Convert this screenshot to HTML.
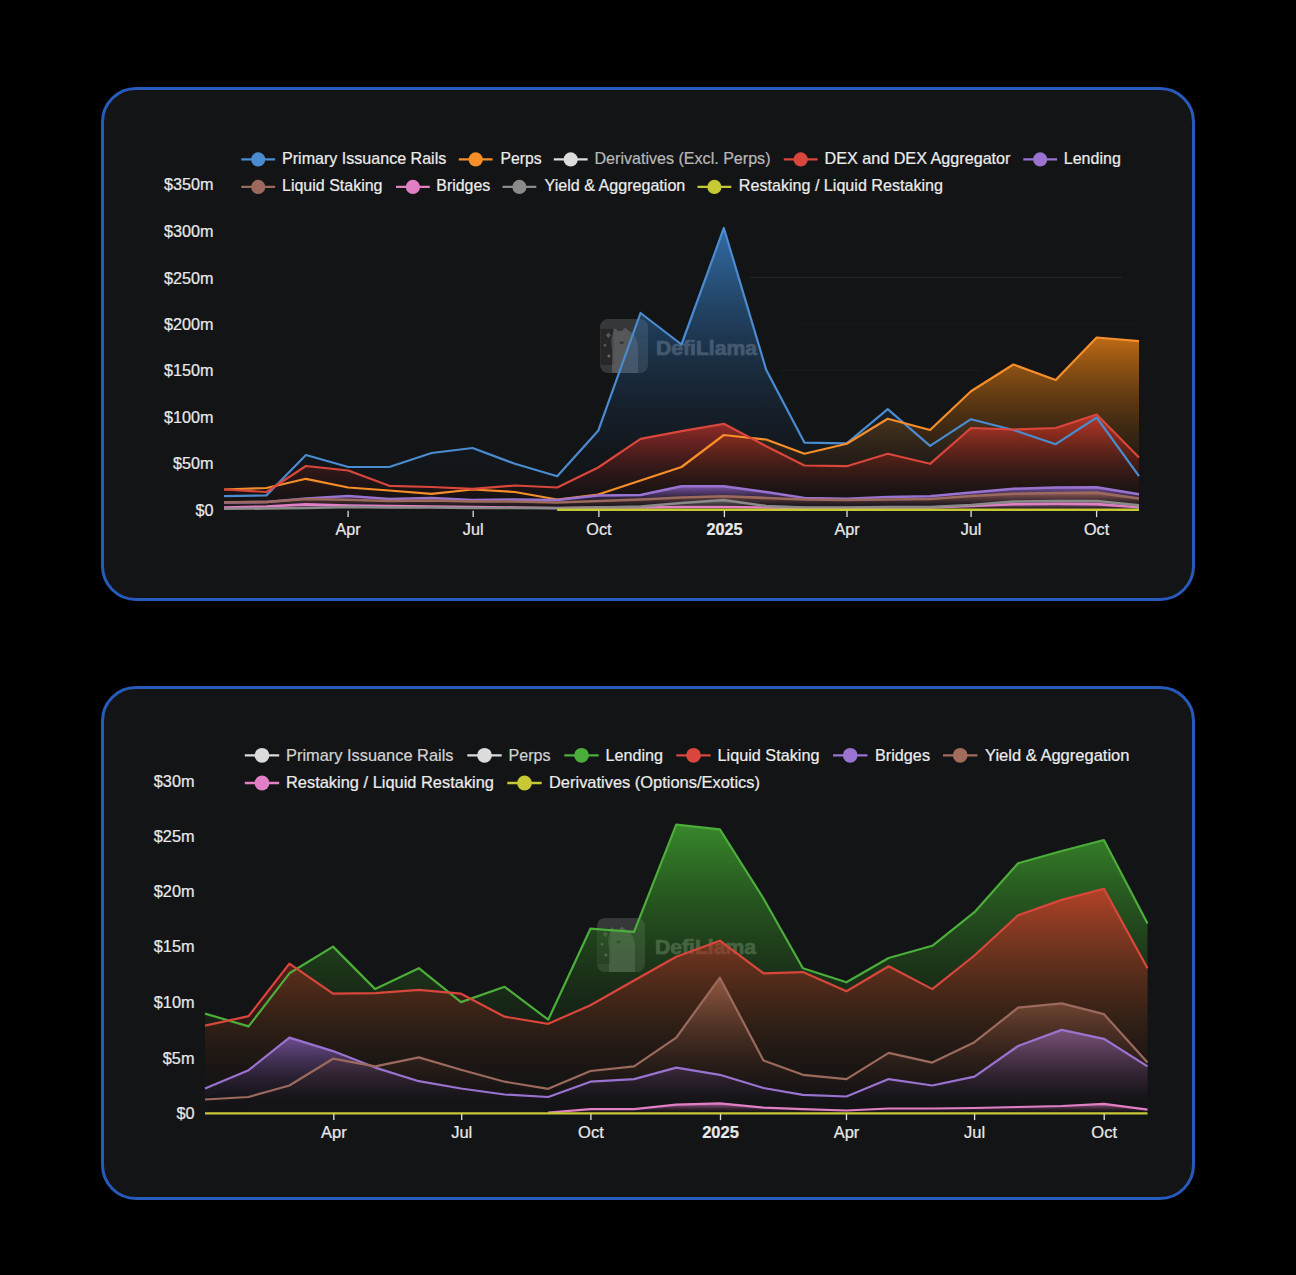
<!DOCTYPE html>
<html><head><meta charset="utf-8"><title>DefiLlama charts</title>
<style>
html,body{margin:0;padding:0;background:#000;}
body{width:1296px;height:1275px;position:relative;overflow:hidden;font-family:"Liberation Sans",sans-serif;}
.panel{position:absolute;left:101px;width:1094px;height:513.5px;box-sizing:border-box;border:3px solid #275bbb;border-radius:35px;background:#131416;}
#p1{top:87px;} #p2{top:686px;}
</style></head><body>
<div class="panel" id="p1"></div>
<div class="panel" id="p2"></div>
<svg width="1296" height="1275" viewBox="0 0 1296 1275" style="position:absolute;left:0;top:0"><defs><linearGradient id="a0" gradientUnits="userSpaceOnUse" x1="0" y1="228" x2="0" y2="510.3"><stop offset="0.0000" stop-color="rgb(63,143,224)" stop-opacity="0.7200"/><stop offset="0.0833" stop-color="rgb(59,134,210)" stop-opacity="0.6600"/><stop offset="0.1667" stop-color="rgb(55,125,195)" stop-opacity="0.6000"/><stop offset="0.2500" stop-color="rgb(51,115,181)" stop-opacity="0.5400"/><stop offset="0.3333" stop-color="rgb(46,106,165)" stop-opacity="0.4800"/><stop offset="0.4167" stop-color="rgb(42,95,150)" stop-opacity="0.4200"/><stop offset="0.5000" stop-color="rgb(37,85,133)" stop-opacity="0.3600"/><stop offset="0.5833" stop-color="rgb(33,74,116)" stop-opacity="0.3000"/><stop offset="0.6667" stop-color="rgb(28,63,98)" stop-opacity="0.2400"/><stop offset="0.7500" stop-color="rgb(22,51,79)" stop-opacity="0.1800"/><stop offset="0.8333" stop-color="rgb(16,37,58)" stop-opacity="0.1200"/><stop offset="0.9167" stop-color="rgb(10,22,35)" stop-opacity="0.0600"/><stop offset="1.0000" stop-color="rgb(0,0,0)" stop-opacity="0.0000"/></linearGradient><linearGradient id="a1" gradientUnits="userSpaceOnUse" x1="0" y1="337.5" x2="0" y2="510.3"><stop offset="0.0000" stop-color="rgb(255,140,20)" stop-opacity="0.7200"/><stop offset="0.0833" stop-color="rgb(239,131,19)" stop-opacity="0.6600"/><stop offset="0.1667" stop-color="rgb(222,122,17)" stop-opacity="0.6000"/><stop offset="0.2500" stop-color="rgb(206,113,16)" stop-opacity="0.5400"/><stop offset="0.3333" stop-color="rgb(188,103,15)" stop-opacity="0.4800"/><stop offset="0.4167" stop-color="rgb(170,93,13)" stop-opacity="0.4200"/><stop offset="0.5000" stop-color="rgb(152,83,12)" stop-opacity="0.3600"/><stop offset="0.5833" stop-color="rgb(132,73,10)" stop-opacity="0.3000"/><stop offset="0.6667" stop-color="rgb(112,61,9)" stop-opacity="0.2400"/><stop offset="0.7500" stop-color="rgb(90,49,7)" stop-opacity="0.1800"/><stop offset="0.8333" stop-color="rgb(67,37,5)" stop-opacity="0.1200"/><stop offset="0.9167" stop-color="rgb(40,22,3)" stop-opacity="0.0600"/><stop offset="1.0000" stop-color="rgb(0,0,0)" stop-opacity="0.0000"/></linearGradient><linearGradient id="a2" gradientUnits="userSpaceOnUse" x1="0" y1="414.5" x2="0" y2="510.3"><stop offset="0.0000" stop-color="rgb(232,55,42)" stop-opacity="0.7200"/><stop offset="0.0833" stop-color="rgb(217,52,39)" stop-opacity="0.6600"/><stop offset="0.1667" stop-color="rgb(202,48,37)" stop-opacity="0.6000"/><stop offset="0.2500" stop-color="rgb(187,44,34)" stop-opacity="0.5400"/><stop offset="0.3333" stop-color="rgb(171,41,31)" stop-opacity="0.4800"/><stop offset="0.4167" stop-color="rgb(155,37,28)" stop-opacity="0.4200"/><stop offset="0.5000" stop-color="rgb(138,33,25)" stop-opacity="0.3600"/><stop offset="0.5833" stop-color="rgb(120,29,22)" stop-opacity="0.3000"/><stop offset="0.6667" stop-color="rgb(102,24,18)" stop-opacity="0.2400"/><stop offset="0.7500" stop-color="rgb(82,19,15)" stop-opacity="0.1800"/><stop offset="0.8333" stop-color="rgb(61,14,11)" stop-opacity="0.1200"/><stop offset="0.9167" stop-color="rgb(36,9,7)" stop-opacity="0.0600"/><stop offset="1.0000" stop-color="rgb(0,0,0)" stop-opacity="0.0000"/></linearGradient><linearGradient id="a3" gradientUnits="userSpaceOnUse" x1="0" y1="486.3" x2="0" y2="510.3"><stop offset="0.0000" stop-color="rgb(154,110,224)" stop-opacity="0.7200"/><stop offset="0.0833" stop-color="rgb(144,103,210)" stop-opacity="0.6600"/><stop offset="0.1667" stop-color="rgb(134,96,195)" stop-opacity="0.6000"/><stop offset="0.2500" stop-color="rgb(124,89,181)" stop-opacity="0.5400"/><stop offset="0.3333" stop-color="rgb(114,81,165)" stop-opacity="0.4800"/><stop offset="0.4167" stop-color="rgb(103,73,150)" stop-opacity="0.4200"/><stop offset="0.5000" stop-color="rgb(92,65,133)" stop-opacity="0.3600"/><stop offset="0.5833" stop-color="rgb(80,57,116)" stop-opacity="0.3000"/><stop offset="0.6667" stop-color="rgb(68,48,98)" stop-opacity="0.2400"/><stop offset="0.7500" stop-color="rgb(54,39,79)" stop-opacity="0.1800"/><stop offset="0.8333" stop-color="rgb(40,29,58)" stop-opacity="0.1200"/><stop offset="0.9167" stop-color="rgb(24,17,35)" stop-opacity="0.0600"/><stop offset="1.0000" stop-color="rgb(0,0,0)" stop-opacity="0.0000"/></linearGradient><linearGradient id="a4" gradientUnits="userSpaceOnUse" x1="0" y1="492.6" x2="0" y2="510.3"><stop offset="0.0000" stop-color="rgb(168,105,79)" stop-opacity="0.7200"/><stop offset="0.0833" stop-color="rgb(157,98,74)" stop-opacity="0.6600"/><stop offset="0.1667" stop-color="rgb(147,92,69)" stop-opacity="0.6000"/><stop offset="0.2500" stop-color="rgb(135,85,64)" stop-opacity="0.5400"/><stop offset="0.3333" stop-color="rgb(124,77,58)" stop-opacity="0.4800"/><stop offset="0.4167" stop-color="rgb(112,70,53)" stop-opacity="0.4200"/><stop offset="0.5000" stop-color="rgb(100,62,47)" stop-opacity="0.3600"/><stop offset="0.5833" stop-color="rgb(87,54,41)" stop-opacity="0.3000"/><stop offset="0.6667" stop-color="rgb(74,46,35)" stop-opacity="0.2400"/><stop offset="0.7500" stop-color="rgb(59,37,28)" stop-opacity="0.1800"/><stop offset="0.8333" stop-color="rgb(44,27,21)" stop-opacity="0.1200"/><stop offset="0.9167" stop-color="rgb(26,16,12)" stop-opacity="0.0600"/><stop offset="1.0000" stop-color="rgb(0,0,0)" stop-opacity="0.0000"/></linearGradient><linearGradient id="a5" gradientUnits="userSpaceOnUse" x1="0" y1="503.8" x2="0" y2="510.3"><stop offset="0.0000" stop-color="rgb(224,127,196)" stop-opacity="0.7200"/><stop offset="0.0833" stop-color="rgb(210,119,184)" stop-opacity="0.6600"/><stop offset="0.1667" stop-color="rgb(195,111,171)" stop-opacity="0.6000"/><stop offset="0.2500" stop-color="rgb(181,102,158)" stop-opacity="0.5400"/><stop offset="0.3333" stop-color="rgb(165,94,145)" stop-opacity="0.4800"/><stop offset="0.4167" stop-color="rgb(150,85,131)" stop-opacity="0.4200"/><stop offset="0.5000" stop-color="rgb(133,76,117)" stop-opacity="0.3600"/><stop offset="0.5833" stop-color="rgb(116,66,102)" stop-opacity="0.3000"/><stop offset="0.6667" stop-color="rgb(98,56,86)" stop-opacity="0.2400"/><stop offset="0.7500" stop-color="rgb(79,45,69)" stop-opacity="0.1800"/><stop offset="0.8333" stop-color="rgb(58,33,51)" stop-opacity="0.1200"/><stop offset="0.9167" stop-color="rgb(35,20,30)" stop-opacity="0.0600"/><stop offset="1.0000" stop-color="rgb(0,0,0)" stop-opacity="0.0000"/></linearGradient><linearGradient id="a6" gradientUnits="userSpaceOnUse" x1="0" y1="500" x2="0" y2="510.3"><stop offset="0.0000" stop-color="rgb(138,138,138)" stop-opacity="0.7200"/><stop offset="0.0833" stop-color="rgb(129,129,129)" stop-opacity="0.6600"/><stop offset="0.1667" stop-color="rgb(120,120,120)" stop-opacity="0.6000"/><stop offset="0.2500" stop-color="rgb(111,111,111)" stop-opacity="0.5400"/><stop offset="0.3333" stop-color="rgb(102,102,102)" stop-opacity="0.4800"/><stop offset="0.4167" stop-color="rgb(92,92,92)" stop-opacity="0.4200"/><stop offset="0.5000" stop-color="rgb(82,82,82)" stop-opacity="0.3600"/><stop offset="0.5833" stop-color="rgb(72,72,72)" stop-opacity="0.3000"/><stop offset="0.6667" stop-color="rgb(61,61,61)" stop-opacity="0.2400"/><stop offset="0.7500" stop-color="rgb(49,49,49)" stop-opacity="0.1800"/><stop offset="0.8333" stop-color="rgb(36,36,36)" stop-opacity="0.1200"/><stop offset="0.9167" stop-color="rgb(21,21,21)" stop-opacity="0.0600"/><stop offset="1.0000" stop-color="rgb(0,0,0)" stop-opacity="0.0000"/></linearGradient><linearGradient id="a7" gradientUnits="userSpaceOnUse" x1="0" y1="509.8" x2="0" y2="510.3"><stop offset="0.0000" stop-color="rgb(198,200,52)" stop-opacity="0.7200"/><stop offset="0.0833" stop-color="rgb(185,187,49)" stop-opacity="0.6600"/><stop offset="0.1667" stop-color="rgb(173,174,45)" stop-opacity="0.6000"/><stop offset="0.2500" stop-color="rgb(160,161,42)" stop-opacity="0.5400"/><stop offset="0.3333" stop-color="rgb(146,148,38)" stop-opacity="0.4800"/><stop offset="0.4167" stop-color="rgb(132,133,35)" stop-opacity="0.4200"/><stop offset="0.5000" stop-color="rgb(118,119,31)" stop-opacity="0.3600"/><stop offset="0.5833" stop-color="rgb(103,104,27)" stop-opacity="0.3000"/><stop offset="0.6667" stop-color="rgb(87,88,23)" stop-opacity="0.2400"/><stop offset="0.7500" stop-color="rgb(70,71,18)" stop-opacity="0.1800"/><stop offset="0.8333" stop-color="rgb(52,52,14)" stop-opacity="0.1200"/><stop offset="0.9167" stop-color="rgb(31,31,8)" stop-opacity="0.0600"/><stop offset="1.0000" stop-color="rgb(0,0,0)" stop-opacity="0.0000"/></linearGradient><linearGradient id="b0" gradientUnits="userSpaceOnUse" x1="0" y1="824.7" x2="0" y2="1113.5"><stop offset="0.0000" stop-color="rgb(70,180,50)" stop-opacity="0.7200"/><stop offset="0.0833" stop-color="rgb(66,169,47)" stop-opacity="0.6600"/><stop offset="0.1667" stop-color="rgb(61,157,44)" stop-opacity="0.6000"/><stop offset="0.2500" stop-color="rgb(56,145,40)" stop-opacity="0.5400"/><stop offset="0.3333" stop-color="rgb(52,133,37)" stop-opacity="0.4800"/><stop offset="0.4167" stop-color="rgb(47,120,33)" stop-opacity="0.4200"/><stop offset="0.5000" stop-color="rgb(42,107,30)" stop-opacity="0.3600"/><stop offset="0.5833" stop-color="rgb(36,93,26)" stop-opacity="0.3000"/><stop offset="0.6667" stop-color="rgb(31,79,22)" stop-opacity="0.2400"/><stop offset="0.7500" stop-color="rgb(25,64,18)" stop-opacity="0.1800"/><stop offset="0.8333" stop-color="rgb(18,47,13)" stop-opacity="0.1200"/><stop offset="0.9167" stop-color="rgb(11,28,8)" stop-opacity="0.0600"/><stop offset="1.0000" stop-color="rgb(0,0,0)" stop-opacity="0.0000"/></linearGradient><linearGradient id="b1" gradientUnits="userSpaceOnUse" x1="0" y1="888.7" x2="0" y2="1113.5"><stop offset="0.0000" stop-color="rgb(232,55,42)" stop-opacity="0.7200"/><stop offset="0.0833" stop-color="rgb(217,52,39)" stop-opacity="0.6600"/><stop offset="0.1667" stop-color="rgb(202,48,37)" stop-opacity="0.6000"/><stop offset="0.2500" stop-color="rgb(187,44,34)" stop-opacity="0.5400"/><stop offset="0.3333" stop-color="rgb(171,41,31)" stop-opacity="0.4800"/><stop offset="0.4167" stop-color="rgb(155,37,28)" stop-opacity="0.4200"/><stop offset="0.5000" stop-color="rgb(138,33,25)" stop-opacity="0.3600"/><stop offset="0.5833" stop-color="rgb(120,29,22)" stop-opacity="0.3000"/><stop offset="0.6667" stop-color="rgb(102,24,18)" stop-opacity="0.2400"/><stop offset="0.7500" stop-color="rgb(82,19,15)" stop-opacity="0.1800"/><stop offset="0.8333" stop-color="rgb(61,14,11)" stop-opacity="0.1200"/><stop offset="0.9167" stop-color="rgb(36,9,7)" stop-opacity="0.0600"/><stop offset="1.0000" stop-color="rgb(0,0,0)" stop-opacity="0.0000"/></linearGradient><linearGradient id="b2" gradientUnits="userSpaceOnUse" x1="0" y1="1029.9" x2="0" y2="1113.5"><stop offset="0.0000" stop-color="rgb(154,110,224)" stop-opacity="0.7200"/><stop offset="0.0833" stop-color="rgb(144,103,210)" stop-opacity="0.6600"/><stop offset="0.1667" stop-color="rgb(134,96,195)" stop-opacity="0.6000"/><stop offset="0.2500" stop-color="rgb(124,89,181)" stop-opacity="0.5400"/><stop offset="0.3333" stop-color="rgb(114,81,165)" stop-opacity="0.4800"/><stop offset="0.4167" stop-color="rgb(103,73,150)" stop-opacity="0.4200"/><stop offset="0.5000" stop-color="rgb(92,65,133)" stop-opacity="0.3600"/><stop offset="0.5833" stop-color="rgb(80,57,116)" stop-opacity="0.3000"/><stop offset="0.6667" stop-color="rgb(68,48,98)" stop-opacity="0.2400"/><stop offset="0.7500" stop-color="rgb(54,39,79)" stop-opacity="0.1800"/><stop offset="0.8333" stop-color="rgb(40,29,58)" stop-opacity="0.1200"/><stop offset="0.9167" stop-color="rgb(24,17,35)" stop-opacity="0.0600"/><stop offset="1.0000" stop-color="rgb(0,0,0)" stop-opacity="0.0000"/></linearGradient><linearGradient id="b3" gradientUnits="userSpaceOnUse" x1="0" y1="977.7" x2="0" y2="1113.5"><stop offset="0.0000" stop-color="rgb(168,105,79)" stop-opacity="0.7200"/><stop offset="0.0833" stop-color="rgb(157,98,74)" stop-opacity="0.6600"/><stop offset="0.1667" stop-color="rgb(147,92,69)" stop-opacity="0.6000"/><stop offset="0.2500" stop-color="rgb(135,85,64)" stop-opacity="0.5400"/><stop offset="0.3333" stop-color="rgb(124,77,58)" stop-opacity="0.4800"/><stop offset="0.4167" stop-color="rgb(112,70,53)" stop-opacity="0.4200"/><stop offset="0.5000" stop-color="rgb(100,62,47)" stop-opacity="0.3600"/><stop offset="0.5833" stop-color="rgb(87,54,41)" stop-opacity="0.3000"/><stop offset="0.6667" stop-color="rgb(74,46,35)" stop-opacity="0.2400"/><stop offset="0.7500" stop-color="rgb(59,37,28)" stop-opacity="0.1800"/><stop offset="0.8333" stop-color="rgb(44,27,21)" stop-opacity="0.1200"/><stop offset="0.9167" stop-color="rgb(26,16,12)" stop-opacity="0.0600"/><stop offset="1.0000" stop-color="rgb(0,0,0)" stop-opacity="0.0000"/></linearGradient><linearGradient id="b4" gradientUnits="userSpaceOnUse" x1="0" y1="1103.3" x2="0" y2="1113.5"><stop offset="0.0000" stop-color="rgb(224,127,196)" stop-opacity="0.7200"/><stop offset="0.0833" stop-color="rgb(210,119,184)" stop-opacity="0.6600"/><stop offset="0.1667" stop-color="rgb(195,111,171)" stop-opacity="0.6000"/><stop offset="0.2500" stop-color="rgb(181,102,158)" stop-opacity="0.5400"/><stop offset="0.3333" stop-color="rgb(165,94,145)" stop-opacity="0.4800"/><stop offset="0.4167" stop-color="rgb(150,85,131)" stop-opacity="0.4200"/><stop offset="0.5000" stop-color="rgb(133,76,117)" stop-opacity="0.3600"/><stop offset="0.5833" stop-color="rgb(116,66,102)" stop-opacity="0.3000"/><stop offset="0.6667" stop-color="rgb(98,56,86)" stop-opacity="0.2400"/><stop offset="0.7500" stop-color="rgb(79,45,69)" stop-opacity="0.1800"/><stop offset="0.8333" stop-color="rgb(58,33,51)" stop-opacity="0.1200"/><stop offset="0.9167" stop-color="rgb(35,20,30)" stop-opacity="0.0600"/><stop offset="1.0000" stop-color="rgb(0,0,0)" stop-opacity="0.0000"/></linearGradient><linearGradient id="b5" gradientUnits="userSpaceOnUse" x1="0" y1="1113.4" x2="0" y2="1113.5"><stop offset="0.0000" stop-color="rgb(198,200,52)" stop-opacity="0.7200"/><stop offset="0.0833" stop-color="rgb(185,187,49)" stop-opacity="0.6600"/><stop offset="0.1667" stop-color="rgb(173,174,45)" stop-opacity="0.6000"/><stop offset="0.2500" stop-color="rgb(160,161,42)" stop-opacity="0.5400"/><stop offset="0.3333" stop-color="rgb(146,148,38)" stop-opacity="0.4800"/><stop offset="0.4167" stop-color="rgb(132,133,35)" stop-opacity="0.4200"/><stop offset="0.5000" stop-color="rgb(118,119,31)" stop-opacity="0.3600"/><stop offset="0.5833" stop-color="rgb(103,104,27)" stop-opacity="0.3000"/><stop offset="0.6667" stop-color="rgb(87,88,23)" stop-opacity="0.2400"/><stop offset="0.7500" stop-color="rgb(70,71,18)" stop-opacity="0.1800"/><stop offset="0.8333" stop-color="rgb(52,52,14)" stop-opacity="0.1200"/><stop offset="0.9167" stop-color="rgb(31,31,8)" stop-opacity="0.0600"/><stop offset="1.0000" stop-color="rgb(0,0,0)" stop-opacity="0.0000"/></linearGradient></defs><g><rect x="600" y="319" width="48" height="54" rx="8" fill="#ffffff" fill-opacity="0.15"/><rect x="600.5" y="329" width="13" height="36" fill="#000000" fill-opacity="0.28"/><path d="M612.0,373.0 L612.0,349.0 Q610.0,341.0 613.0,333.0 L614.0,328.0 L618.0,331.0 L622.0,331.0 L625.0,327.5 L629.0,331.0 Q637.0,334.0 638.0,347.0 L638.0,373.0 Z" fill="#ffffff" fill-opacity="0.16"/><path d="M608.4,332.5 L611.0,335.3 L608.4,338.0 L605.8,335.3 Z" fill="#fff" fill-opacity="0.22"/><circle cx="605" cy="345.2" r="1.3" fill="#fff" fill-opacity="0.25"/><circle cx="608.9" cy="356.1" r="1.5" fill="#fff" fill-opacity="0.3"/><ellipse cx="621.7" cy="342.8" rx="2.2" ry="1.5" fill="#000" fill-opacity="0.35"/><g opacity="0.28"><text x="656" y="355" font-family="Liberation Sans, sans-serif" font-weight="700" font-size="19.5" fill="#ffffff" stroke="#ffffff" stroke-width="0.6" textLength="101" lengthAdjust="spacingAndGlyphs">DefiLlama</text></g></g>
<g><rect x="597" y="918" width="48" height="54" rx="8" fill="#ffffff" fill-opacity="0.15"/><rect x="597.5" y="928" width="13" height="36" fill="#000000" fill-opacity="0.28"/><path d="M609.0,972.0 L609.0,948.0 Q607.0,940.0 610.0,932.0 L611.0,927.0 L615.0,930.0 L619.0,930.0 L622.0,926.5 L626.0,930.0 Q634.0,933.0 635.0,946.0 L635.0,972.0 Z" fill="#ffffff" fill-opacity="0.16"/><path d="M605.4,931.5 L608.0,934.3 L605.4,937.0 L602.8,934.3 Z" fill="#fff" fill-opacity="0.22"/><circle cx="602" cy="944.2" r="1.3" fill="#fff" fill-opacity="0.25"/><circle cx="605.9" cy="955.1" r="1.5" fill="#fff" fill-opacity="0.3"/><ellipse cx="618.7" cy="941.8" rx="2.2" ry="1.5" fill="#000" fill-opacity="0.35"/><g opacity="0.28"><text x="655" y="954" font-family="Liberation Sans, sans-serif" font-weight="700" font-size="19.5" fill="#ffffff" stroke="#ffffff" stroke-width="0.6" textLength="101" lengthAdjust="spacingAndGlyphs">DefiLlama</text></g></g>
<line x1="750" y1="277.5" x2="1122" y2="277.5" stroke="#ffffff" stroke-opacity="0.075" stroke-width="1"/>
<line x1="800" y1="324.5" x2="1139" y2="324.5" stroke="#ffffff" stroke-opacity="0.02" stroke-width="1"/>
<line x1="780" y1="370.5" x2="980" y2="370.5" stroke="#ffffff" stroke-opacity="0.03" stroke-width="1"/>
<polygon points="224.0,496.2 266.34,495.5 305.94,455 348.28,467 389.25,467 431.58,453 472.55,448 514.89,463.8 557.22,476.2 598.19,430.8 640.53,313 681.5,344.5 723.84,228 766.17,369.7 804.41,442.6 846.75,443.3 887.72,409.2 930.05,445.8 971.02,419.2 1013.36,430 1055.69,444.2 1096.66,417.5 1139.0,476.2 1139.0,510.3 224.0,510.3" fill="url(#a0)"/>
<polygon points="224.0,489.5 266.34,488 305.94,478.8 348.28,487.5 389.25,490.5 431.58,493.8 472.55,489.5 514.89,492 557.22,499.5 598.19,494.5 640.53,480.5 681.5,467 723.84,435 766.17,439.5 804.41,453.8 846.75,443.8 887.72,418.8 930.05,430 971.02,391.2 1013.36,364.5 1055.69,380 1096.66,337.5 1139.0,341.2 1139.0,510.3 224.0,510.3" fill="url(#a1)"/>
<polygon points="224.0,489.5 266.34,492 305.94,466 348.28,470.5 389.25,485.8 431.58,487 472.55,488.8 514.89,485.5 557.22,487.5 598.19,467.5 640.53,438.8 681.5,431.2 723.84,423.8 766.17,446.2 804.41,465.5 846.75,466.2 887.72,453.8 930.05,463.8 971.02,428 1013.36,429.5 1055.69,428 1096.66,414.5 1139.0,457.5 1139.0,510.3 224.0,510.3" fill="url(#a2)"/>
<polygon points="224.0,502.5 266.34,502 305.94,498.5 348.28,496 389.25,499 431.58,498 472.55,500 514.89,499.5 557.22,500 598.19,495.5 640.53,495 681.5,486.3 723.84,486.3 766.17,492 804.41,498 846.75,498.8 887.72,497 930.05,496.3 971.02,492.5 1013.36,488.8 1055.69,487.5 1096.66,487.2 1139.0,494.2 1139.0,510.3 224.0,510.3" fill="url(#a3)"/>
<polygon points="224.0,502.3 266.34,502 305.94,499 348.28,499.8 389.25,501 431.58,500.5 472.55,501.5 514.89,501.5 557.22,502.5 598.19,501 640.53,499.5 681.5,497.5 723.84,496.3 766.17,498 804.41,499.5 846.75,500 887.72,499.5 930.05,499 971.02,496 1013.36,493.8 1055.69,493 1096.66,492.6 1139.0,498.5 1139.0,510.3 224.0,510.3" fill="url(#a4)"/>
<polygon points="224.0,507.5 266.34,506.5 305.94,504.4 348.28,505.6 389.25,506 431.58,506.5 472.55,507 514.89,507.5 557.22,508 598.19,507.5 640.53,507.5 681.5,507 723.84,507 766.17,507.5 804.41,508 846.75,508 887.72,507.5 930.05,507.5 971.02,506 1013.36,504.2 1055.69,503.8 1096.66,504.1 1139.0,507.2 1139.0,510.3 224.0,510.3" fill="url(#a5)"/>
<polygon points="224.0,508.8 266.34,508.5 305.94,508 348.28,507 389.25,507.5 431.58,507.5 472.55,508 514.89,508 557.22,508.3 598.19,507.5 640.53,506.5 681.5,503 723.84,500 766.17,506 804.41,507.5 846.75,507.5 887.72,507 930.05,507 971.02,505 1013.36,501.5 1055.69,501 1096.66,501 1139.0,505.4 1139.0,510.3 224.0,510.3" fill="url(#a6)"/>
<polygon points="557.22,509.8 598.19,509.8 640.53,509.8 681.5,509.8 723.84,509.8 766.17,509.8 804.41,509.8 846.75,509.8 887.72,509.8 930.05,509.8 971.02,509.8 1013.36,509.8 1055.69,509.8 1096.66,509.8 1139.0,509.8 1139.0,510.3 557.22,510.3" fill="url(#a7)"/>
<polyline points="224.0,496.2 266.34,495.5 305.94,455 348.28,467 389.25,467 431.58,453 472.55,448 514.89,463.8 557.22,476.2 598.19,430.8 640.53,313 681.5,344.5 723.84,228 766.17,369.7 804.41,442.6 846.75,443.3 887.72,409.2 930.05,445.8 971.02,419.2 1013.36,430 1055.69,444.2 1096.66,417.5 1139.0,476.2" fill="none" stroke="#4b8bd0" stroke-width="2.2" stroke-linejoin="round" stroke-linecap="butt"/>
<polyline points="224.0,489.5 266.34,488 305.94,478.8 348.28,487.5 389.25,490.5 431.58,493.8 472.55,489.5 514.89,492 557.22,499.5 598.19,494.5 640.53,480.5 681.5,467 723.84,435 766.17,439.5 804.41,453.8 846.75,443.8 887.72,418.8 930.05,430 971.02,391.2 1013.36,364.5 1055.69,380 1096.66,337.5 1139.0,341.2" fill="none" stroke="#f68e2a" stroke-width="2.2" stroke-linejoin="round" stroke-linecap="butt"/>
<polyline points="224.0,489.5 266.34,492 305.94,466 348.28,470.5 389.25,485.8 431.58,487 472.55,488.8 514.89,485.5 557.22,487.5 598.19,467.5 640.53,438.8 681.5,431.2 723.84,423.8 766.17,446.2 804.41,465.5 846.75,466.2 887.72,453.8 930.05,463.8 971.02,428 1013.36,429.5 1055.69,428 1096.66,414.5 1139.0,457.5" fill="none" stroke="#d9463c" stroke-width="2.2" stroke-linejoin="round" stroke-linecap="butt"/>
<polyline points="224.0,502.5 266.34,502 305.94,498.5 348.28,496 389.25,499 431.58,498 472.55,500 514.89,499.5 557.22,500 598.19,495.5 640.53,495 681.5,486.3 723.84,486.3 766.17,492 804.41,498 846.75,498.8 887.72,497 930.05,496.3 971.02,492.5 1013.36,488.8 1055.69,487.5 1096.66,487.2 1139.0,494.2" fill="none" stroke="#9a72d0" stroke-width="2.6" stroke-linejoin="round" stroke-linecap="butt"/>
<polyline points="224.0,502.3 266.34,502 305.94,499 348.28,499.8 389.25,501 431.58,500.5 472.55,501.5 514.89,501.5 557.22,502.5 598.19,501 640.53,499.5 681.5,497.5 723.84,496.3 766.17,498 804.41,499.5 846.75,500 887.72,499.5 930.05,499 971.02,496 1013.36,493.8 1055.69,493 1096.66,492.6 1139.0,498.5" fill="none" stroke="#9c6a5d" stroke-width="2.6" stroke-linejoin="round" stroke-linecap="butt"/>
<polyline points="224.0,507.5 266.34,506.5 305.94,504.4 348.28,505.6 389.25,506 431.58,506.5 472.55,507 514.89,507.5 557.22,508 598.19,507.5 640.53,507.5 681.5,507 723.84,507 766.17,507.5 804.41,508 846.75,508 887.72,507.5 930.05,507.5 971.02,506 1013.36,504.2 1055.69,503.8 1096.66,504.1 1139.0,507.2" fill="none" stroke="#e07fc4" stroke-width="2.6" stroke-linejoin="round" stroke-linecap="butt"/>
<polyline points="224.0,508.8 266.34,508.5 305.94,508 348.28,507 389.25,507.5 431.58,507.5 472.55,508 514.89,508 557.22,508.3 598.19,507.5 640.53,506.5 681.5,503 723.84,500 766.17,506 804.41,507.5 846.75,507.5 887.72,507 930.05,507 971.02,505 1013.36,501.5 1055.69,501 1096.66,501 1139.0,505.4" fill="none" stroke="#8a8a8a" stroke-width="2.6" stroke-linejoin="round" stroke-linecap="butt"/>
<polyline points="557.22,509.8 598.19,509.8 640.53,509.8 681.5,509.8 723.84,509.8 766.17,509.8 804.41,509.8 846.75,509.8 887.72,509.8 930.05,509.8 971.02,509.8 1013.36,509.8 1055.69,509.8 1096.66,509.8 1139.0,509.8" fill="none" stroke="#c6c834" stroke-width="2.6" stroke-linejoin="round" stroke-linecap="butt"/>
<polygon points="205.0,1013.6 248.61,1026.4 289.4,973.3 333.01,946.6 375.21,989.1 418.82,968.2 461.02,1002.1 504.63,986.8 548.24,1019.7 590.44,928.7 634.05,931.8 676.25,824.7 719.86,829.3 763.47,898.5 802.85,968.2 846.46,982.3 888.66,958 932.27,945.8 974.47,912.2 1018.08,863.2 1061.69,851 1103.89,840 1147.5,923.6 1147.5,1113.5 205.0,1113.5" fill="url(#b0)"/>
<polygon points="205.0,1025.6 248.61,1016.2 289.4,963.6 333.01,993.7 375.21,993.2 418.82,989.9 461.02,993.7 504.63,1016.7 548.24,1023.8 590.44,1005.2 634.05,980.5 676.25,956.8 719.86,940.7 763.47,973.3 802.85,972.1 846.46,991.2 888.66,966.2 932.27,989.1 974.47,955.5 1018.08,915.2 1061.69,899.9 1103.89,888.7 1147.5,968.2 1147.5,1113.5 205.0,1113.5" fill="url(#b1)"/>
<polygon points="205.0,1088.5 248.61,1070.2 289.4,1037.6 333.01,1051.1 375.21,1067.6 418.82,1081.2 461.02,1088.5 504.63,1094.5 548.24,1097 590.44,1081.7 634.05,1079.1 676.25,1067.6 719.86,1074.8 763.47,1088 802.85,1094.9 846.46,1096.5 888.66,1079.1 932.27,1085.5 974.47,1076.6 1018.08,1046 1061.69,1029.9 1103.89,1038.8 1147.5,1066.4 1147.5,1113.5 205.0,1113.5" fill="url(#b2)"/>
<polygon points="205.0,1099.5 248.61,1097 289.4,1085.5 333.01,1058.7 375.21,1066.4 418.82,1057.4 461.02,1069.7 504.63,1081.7 548.24,1088.8 590.44,1071 634.05,1066.4 676.25,1037.6 719.86,977.7 763.47,1060.5 802.85,1074.8 846.46,1079.1 888.66,1052.9 932.27,1062.6 974.47,1042.2 1018.08,1007.7 1061.69,1003.4 1103.89,1014.1 1147.5,1062.6 1147.5,1113.5 205.0,1113.5" fill="url(#b3)"/>
<polygon points="548.24,1112.6 590.44,1109.2 634.05,1109.2 676.25,1104.6 719.86,1103.3 763.47,1107.7 802.85,1109.2 846.46,1110.5 888.66,1108.5 932.27,1108.5 974.47,1108 1018.08,1107 1061.69,1106 1103.89,1103.8 1147.5,1109.7 1147.5,1113.5 548.24,1113.5" fill="url(#b4)"/>
<polygon points="205.0,1113.4 248.61,1113.4 289.4,1113.4 333.01,1113.4 375.21,1113.4 418.82,1113.4 461.02,1113.4 504.63,1113.4 548.24,1113.4 590.44,1113.4 634.05,1113.4 676.25,1113.4 719.86,1113.4 763.47,1113.4 802.85,1113.4 846.46,1113.4 888.66,1113.4 932.27,1113.4 974.47,1113.4 1018.08,1113.4 1061.69,1113.4 1103.89,1113.4 1147.5,1113.4 1147.5,1113.5 205.0,1113.5" fill="url(#b5)"/>
<polyline points="205.0,1013.6 248.61,1026.4 289.4,973.3 333.01,946.6 375.21,989.1 418.82,968.2 461.02,1002.1 504.63,986.8 548.24,1019.7 590.44,928.7 634.05,931.8 676.25,824.7 719.86,829.3 763.47,898.5 802.85,968.2 846.46,982.3 888.66,958 932.27,945.8 974.47,912.2 1018.08,863.2 1061.69,851 1103.89,840 1147.5,923.6" fill="none" stroke="#4cae3a" stroke-width="2.2" stroke-linejoin="round" stroke-linecap="butt"/>
<polyline points="205.0,1025.6 248.61,1016.2 289.4,963.6 333.01,993.7 375.21,993.2 418.82,989.9 461.02,993.7 504.63,1016.7 548.24,1023.8 590.44,1005.2 634.05,980.5 676.25,956.8 719.86,940.7 763.47,973.3 802.85,972.1 846.46,991.2 888.66,966.2 932.27,989.1 974.47,955.5 1018.08,915.2 1061.69,899.9 1103.89,888.7 1147.5,968.2" fill="none" stroke="#d9463c" stroke-width="2.2" stroke-linejoin="round" stroke-linecap="butt"/>
<polyline points="205.0,1088.5 248.61,1070.2 289.4,1037.6 333.01,1051.1 375.21,1067.6 418.82,1081.2 461.02,1088.5 504.63,1094.5 548.24,1097 590.44,1081.7 634.05,1079.1 676.25,1067.6 719.86,1074.8 763.47,1088 802.85,1094.9 846.46,1096.5 888.66,1079.1 932.27,1085.5 974.47,1076.6 1018.08,1046 1061.69,1029.9 1103.89,1038.8 1147.5,1066.4" fill="none" stroke="#9a72d0" stroke-width="2.2" stroke-linejoin="round" stroke-linecap="butt"/>
<polyline points="205.0,1099.5 248.61,1097 289.4,1085.5 333.01,1058.7 375.21,1066.4 418.82,1057.4 461.02,1069.7 504.63,1081.7 548.24,1088.8 590.44,1071 634.05,1066.4 676.25,1037.6 719.86,977.7 763.47,1060.5 802.85,1074.8 846.46,1079.1 888.66,1052.9 932.27,1062.6 974.47,1042.2 1018.08,1007.7 1061.69,1003.4 1103.89,1014.1 1147.5,1062.6" fill="none" stroke="#9c6a5d" stroke-width="2.2" stroke-linejoin="round" stroke-linecap="butt"/>
<polyline points="548.24,1112.6 590.44,1109.2 634.05,1109.2 676.25,1104.6 719.86,1103.3 763.47,1107.7 802.85,1109.2 846.46,1110.5 888.66,1108.5 932.27,1108.5 974.47,1108 1018.08,1107 1061.69,1106 1103.89,1103.8 1147.5,1109.7" fill="none" stroke="#e07fc4" stroke-width="2.2" stroke-linejoin="round" stroke-linecap="butt"/>
<polyline points="205.0,1113.4 248.61,1113.4 289.4,1113.4 333.01,1113.4 375.21,1113.4 418.82,1113.4 461.02,1113.4 504.63,1113.4 548.24,1113.4 590.44,1113.4 634.05,1113.4 676.25,1113.4 719.86,1113.4 763.47,1113.4 802.85,1113.4 846.46,1113.4 888.66,1113.4 932.27,1113.4 974.47,1113.4 1018.08,1113.4 1061.69,1113.4 1103.89,1113.4 1147.5,1113.4" fill="none" stroke="#c6c834" stroke-width="2.2" stroke-linejoin="round" stroke-linecap="butt"/>
<line x1="348.1" y1="510.8" x2="348.1" y2="517.1" stroke="#e0e0e0" stroke-width="1.3"/>
<text x="348.1" y="535.0" text-anchor="middle" font-family="Liberation Sans, sans-serif" font-size="16.2" font-weight="400" fill="#e9e9e9" stroke="#e9e9e9" stroke-width="0.22">Apr</text>
<line x1="473.2" y1="510.8" x2="473.2" y2="517.1" stroke="#e0e0e0" stroke-width="1.3"/>
<text x="473.2" y="535.0" text-anchor="middle" font-family="Liberation Sans, sans-serif" font-size="16.2" font-weight="400" fill="#e9e9e9" stroke="#e9e9e9" stroke-width="0.22">Jul</text>
<line x1="598.9" y1="510.8" x2="598.9" y2="517.1" stroke="#e0e0e0" stroke-width="1.3"/>
<text x="598.9" y="535.0" text-anchor="middle" font-family="Liberation Sans, sans-serif" font-size="16.2" font-weight="400" fill="#e9e9e9" stroke="#e9e9e9" stroke-width="0.22">Oct</text>
<line x1="724.4" y1="510.8" x2="724.4" y2="517.1" stroke="#e0e0e0" stroke-width="1.3"/>
<text x="724.4" y="535.0" text-anchor="middle" font-family="Liberation Sans, sans-serif" font-size="16.2" font-weight="700" fill="#e9e9e9" stroke="#e9e9e9" stroke-width="0.22">2025</text>
<line x1="847.0" y1="510.8" x2="847.0" y2="517.1" stroke="#e0e0e0" stroke-width="1.3"/>
<text x="847.0" y="535.0" text-anchor="middle" font-family="Liberation Sans, sans-serif" font-size="16.2" font-weight="400" fill="#e9e9e9" stroke="#e9e9e9" stroke-width="0.22">Apr</text>
<line x1="971.1" y1="510.8" x2="971.1" y2="517.1" stroke="#e0e0e0" stroke-width="1.3"/>
<text x="971.1" y="535.0" text-anchor="middle" font-family="Liberation Sans, sans-serif" font-size="16.2" font-weight="400" fill="#e9e9e9" stroke="#e9e9e9" stroke-width="0.22">Jul</text>
<line x1="1096.6" y1="510.8" x2="1096.6" y2="517.1" stroke="#e0e0e0" stroke-width="1.3"/>
<text x="1096.6" y="535.0" text-anchor="middle" font-family="Liberation Sans, sans-serif" font-size="16.2" font-weight="400" fill="#e9e9e9" stroke="#e9e9e9" stroke-width="0.22">Oct</text>
<line x1="333.8" y1="1113.8" x2="333.8" y2="1120.1" stroke="#e0e0e0" stroke-width="1.3"/>
<text x="333.8" y="1138.4" text-anchor="middle" font-family="Liberation Sans, sans-serif" font-size="16.5" font-weight="400" fill="#e9e9e9" stroke="#e9e9e9" stroke-width="0.22">Apr</text>
<line x1="461.7" y1="1113.8" x2="461.7" y2="1120.1" stroke="#e0e0e0" stroke-width="1.3"/>
<text x="461.7" y="1138.4" text-anchor="middle" font-family="Liberation Sans, sans-serif" font-size="16.5" font-weight="400" fill="#e9e9e9" stroke="#e9e9e9" stroke-width="0.22">Jul</text>
<line x1="590.9" y1="1113.8" x2="590.9" y2="1120.1" stroke="#e0e0e0" stroke-width="1.3"/>
<text x="590.9" y="1138.4" text-anchor="middle" font-family="Liberation Sans, sans-serif" font-size="16.5" font-weight="400" fill="#e9e9e9" stroke="#e9e9e9" stroke-width="0.22">Oct</text>
<line x1="720.5" y1="1113.8" x2="720.5" y2="1120.1" stroke="#e0e0e0" stroke-width="1.3"/>
<text x="720.5" y="1138.4" text-anchor="middle" font-family="Liberation Sans, sans-serif" font-size="16.5" font-weight="700" fill="#e9e9e9" stroke="#e9e9e9" stroke-width="0.22">2025</text>
<line x1="846.5" y1="1113.8" x2="846.5" y2="1120.1" stroke="#e0e0e0" stroke-width="1.3"/>
<text x="846.5" y="1138.4" text-anchor="middle" font-family="Liberation Sans, sans-serif" font-size="16.5" font-weight="400" fill="#e9e9e9" stroke="#e9e9e9" stroke-width="0.22">Apr</text>
<line x1="974.6" y1="1113.8" x2="974.6" y2="1120.1" stroke="#e0e0e0" stroke-width="1.3"/>
<text x="974.6" y="1138.4" text-anchor="middle" font-family="Liberation Sans, sans-serif" font-size="16.5" font-weight="400" fill="#e9e9e9" stroke="#e9e9e9" stroke-width="0.22">Jul</text>
<line x1="1104.2" y1="1113.8" x2="1104.2" y2="1120.1" stroke="#e0e0e0" stroke-width="1.3"/>
<text x="1104.2" y="1138.4" text-anchor="middle" font-family="Liberation Sans, sans-serif" font-size="16.5" font-weight="400" fill="#e9e9e9" stroke="#e9e9e9" stroke-width="0.22">Oct</text>
<text x="213.5" y="516.1" text-anchor="end" font-family="Liberation Sans, sans-serif" font-size="16.2" fill="#e9e9e9" stroke="#e9e9e9" stroke-width="0.22">$0</text>
<text x="213.5" y="469.1" text-anchor="end" font-family="Liberation Sans, sans-serif" font-size="16.2" fill="#e9e9e9" stroke="#e9e9e9" stroke-width="0.22">$50m</text>
<text x="213.5" y="423.1" text-anchor="end" font-family="Liberation Sans, sans-serif" font-size="16.2" fill="#e9e9e9" stroke="#e9e9e9" stroke-width="0.22">$100m</text>
<text x="213.5" y="376.1" text-anchor="end" font-family="Liberation Sans, sans-serif" font-size="16.2" fill="#e9e9e9" stroke="#e9e9e9" stroke-width="0.22">$150m</text>
<text x="213.5" y="329.6" text-anchor="end" font-family="Liberation Sans, sans-serif" font-size="16.2" fill="#e9e9e9" stroke="#e9e9e9" stroke-width="0.22">$200m</text>
<text x="213.5" y="283.6" text-anchor="end" font-family="Liberation Sans, sans-serif" font-size="16.2" fill="#e9e9e9" stroke="#e9e9e9" stroke-width="0.22">$250m</text>
<text x="213.5" y="236.60000000000002" text-anchor="end" font-family="Liberation Sans, sans-serif" font-size="16.2" fill="#e9e9e9" stroke="#e9e9e9" stroke-width="0.22">$300m</text>
<text x="213.5" y="190.10000000000002" text-anchor="end" font-family="Liberation Sans, sans-serif" font-size="16.2" fill="#e9e9e9" stroke="#e9e9e9" stroke-width="0.22">$350m</text>
<text x="194.5" y="1119.0" text-anchor="end" font-family="Liberation Sans, sans-serif" font-size="16.3" fill="#e9e9e9" stroke="#e9e9e9" stroke-width="0.22">$0</text>
<text x="194.5" y="1063.7" text-anchor="end" font-family="Liberation Sans, sans-serif" font-size="16.3" fill="#e9e9e9" stroke="#e9e9e9" stroke-width="0.22">$5m</text>
<text x="194.5" y="1007.9" text-anchor="end" font-family="Liberation Sans, sans-serif" font-size="16.3" fill="#e9e9e9" stroke="#e9e9e9" stroke-width="0.22">$10m</text>
<text x="194.5" y="952.1999999999999" text-anchor="end" font-family="Liberation Sans, sans-serif" font-size="16.3" fill="#e9e9e9" stroke="#e9e9e9" stroke-width="0.22">$15m</text>
<text x="194.5" y="897.0" text-anchor="end" font-family="Liberation Sans, sans-serif" font-size="16.3" fill="#e9e9e9" stroke="#e9e9e9" stroke-width="0.22">$20m</text>
<text x="194.5" y="842.3" text-anchor="end" font-family="Liberation Sans, sans-serif" font-size="16.3" fill="#e9e9e9" stroke="#e9e9e9" stroke-width="0.22">$25m</text>
<text x="194.5" y="787.0" text-anchor="end" font-family="Liberation Sans, sans-serif" font-size="16.3" fill="#e9e9e9" stroke="#e9e9e9" stroke-width="0.22">$30m</text>
<line x1="241.3" y1="159.4" x2="275.1" y2="159.4" stroke="#4b8bd0" stroke-width="2.3"/>
<circle cx="258.2" cy="159.4" r="7.1" fill="#4b8bd0"/>
<text x="282" y="164.4" font-family="Liberation Sans, sans-serif" font-size="16.2" fill="#ececec" stroke="#ececec" stroke-width="0.22" textLength="164.3" lengthAdjust="spacingAndGlyphs">Primary Issuance Rails</text>
<line x1="458.8" y1="159.4" x2="492.6" y2="159.4" stroke="#f68e2a" stroke-width="2.3"/>
<circle cx="475.7" cy="159.4" r="7.1" fill="#f68e2a"/>
<text x="500.5" y="164.4" font-family="Liberation Sans, sans-serif" font-size="16.2" fill="#ececec" stroke="#ececec" stroke-width="0.22" textLength="41.0" lengthAdjust="spacingAndGlyphs">Perps</text>
<line x1="553.8" y1="159.4" x2="587.5999999999999" y2="159.4" stroke="#dcdcdc" stroke-width="2.3"/>
<circle cx="570.6999999999999" cy="159.4" r="7.1" fill="#dcdcdc"/>
<text x="594.5" y="164.4" font-family="Liberation Sans, sans-serif" font-size="16.2" fill="#b8b8b8" stroke="#b8b8b8" stroke-width="0.22" textLength="176.0" lengthAdjust="spacingAndGlyphs">Derivatives (Excl. Perps)</text>
<line x1="783.8" y1="159.4" x2="817.5999999999999" y2="159.4" stroke="#d9463c" stroke-width="2.3"/>
<circle cx="800.6999999999999" cy="159.4" r="7.1" fill="#d9463c"/>
<text x="824.5" y="164.4" font-family="Liberation Sans, sans-serif" font-size="16.2" fill="#ececec" stroke="#ececec" stroke-width="0.22" textLength="186.0" lengthAdjust="spacingAndGlyphs">DEX and DEX Aggregator</text>
<line x1="1023.3" y1="159.4" x2="1057.1" y2="159.4" stroke="#9a72d0" stroke-width="2.3"/>
<circle cx="1040.2" cy="159.4" r="7.1" fill="#9a72d0"/>
<text x="1063.8" y="164.4" font-family="Liberation Sans, sans-serif" font-size="16.2" fill="#ececec" stroke="#ececec" stroke-width="0.22" textLength="57.0" lengthAdjust="spacingAndGlyphs">Lending</text>
<line x1="241.3" y1="186.9" x2="275.1" y2="186.9" stroke="#9c6a5d" stroke-width="2.3"/>
<circle cx="258.2" cy="186.9" r="7.1" fill="#9c6a5d"/>
<text x="282" y="191.4" font-family="Liberation Sans, sans-serif" font-size="16.2" fill="#ececec" stroke="#ececec" stroke-width="0.22" textLength="100.5" lengthAdjust="spacingAndGlyphs">Liquid Staking</text>
<line x1="396.0" y1="186.9" x2="429.8" y2="186.9" stroke="#e07fc4" stroke-width="2.3"/>
<circle cx="412.9" cy="186.9" r="7.1" fill="#e07fc4"/>
<text x="436.3" y="191.4" font-family="Liberation Sans, sans-serif" font-size="16.2" fill="#ececec" stroke="#ececec" stroke-width="0.22" textLength="54.0" lengthAdjust="spacingAndGlyphs">Bridges</text>
<line x1="502.5" y1="186.9" x2="536.3" y2="186.9" stroke="#8a8a8a" stroke-width="2.3"/>
<circle cx="519.4" cy="186.9" r="7.1" fill="#8a8a8a"/>
<text x="544.5" y="191.4" font-family="Liberation Sans, sans-serif" font-size="16.2" fill="#ececec" stroke="#ececec" stroke-width="0.22" textLength="140.8" lengthAdjust="spacingAndGlyphs">Yield &amp; Aggregation</text>
<line x1="697.5" y1="186.9" x2="731.3" y2="186.9" stroke="#c6c834" stroke-width="2.3"/>
<circle cx="714.4" cy="186.9" r="7.1" fill="#c6c834"/>
<text x="738.8" y="191.4" font-family="Liberation Sans, sans-serif" font-size="16.2" fill="#ececec" stroke="#ececec" stroke-width="0.22" textLength="204.2" lengthAdjust="spacingAndGlyphs">Restaking / Liquid Restaking</text>
<line x1="244.8" y1="755.3" x2="279.2" y2="755.3" stroke="#dcdcdc" stroke-width="2.3"/>
<circle cx="262.0" cy="755.3" r="7.4" fill="#dcdcdc"/>
<text x="286" y="760.7" font-family="Liberation Sans, sans-serif" font-size="16.6" fill="#d2d2d2" stroke="#d2d2d2" stroke-width="0.22" textLength="167.5" lengthAdjust="spacingAndGlyphs">Primary Issuance Rails</text>
<line x1="467.3" y1="755.3" x2="501.7" y2="755.3" stroke="#dcdcdc" stroke-width="2.3"/>
<circle cx="484.5" cy="755.3" r="7.4" fill="#dcdcdc"/>
<text x="508.5" y="760.7" font-family="Liberation Sans, sans-serif" font-size="16.6" fill="#d2d2d2" stroke="#d2d2d2" stroke-width="0.22" textLength="42.0" lengthAdjust="spacingAndGlyphs">Perps</text>
<line x1="564.3" y1="755.3" x2="598.6999999999999" y2="755.3" stroke="#4cae3a" stroke-width="2.3"/>
<circle cx="581.5" cy="755.3" r="7.4" fill="#4cae3a"/>
<text x="605.5" y="760.7" font-family="Liberation Sans, sans-serif" font-size="16.6" fill="#ececec" stroke="#ececec" stroke-width="0.22" textLength="57.5" lengthAdjust="spacingAndGlyphs">Lending</text>
<line x1="676.3" y1="755.3" x2="710.6999999999999" y2="755.3" stroke="#d9463c" stroke-width="2.3"/>
<circle cx="693.5" cy="755.3" r="7.4" fill="#d9463c"/>
<text x="717.5" y="760.7" font-family="Liberation Sans, sans-serif" font-size="16.6" fill="#ececec" stroke="#ececec" stroke-width="0.22" textLength="102.0" lengthAdjust="spacingAndGlyphs">Liquid Staking</text>
<line x1="833.0" y1="755.3" x2="867.4" y2="755.3" stroke="#9a72d0" stroke-width="2.3"/>
<circle cx="850.2" cy="755.3" r="7.4" fill="#9a72d0"/>
<text x="875.0" y="760.7" font-family="Liberation Sans, sans-serif" font-size="16.6" fill="#ececec" stroke="#ececec" stroke-width="0.22" textLength="55.0" lengthAdjust="spacingAndGlyphs">Bridges</text>
<line x1="943.0" y1="755.3" x2="977.4" y2="755.3" stroke="#a26c5c" stroke-width="2.3"/>
<circle cx="960.2" cy="755.3" r="7.4" fill="#a26c5c"/>
<text x="985.0" y="760.7" font-family="Liberation Sans, sans-serif" font-size="16.6" fill="#ececec" stroke="#ececec" stroke-width="0.22" textLength="144.5" lengthAdjust="spacingAndGlyphs">Yield &amp; Aggregation</text>
<line x1="244.8" y1="783.0" x2="279.2" y2="783.0" stroke="#e07fc4" stroke-width="2.3"/>
<circle cx="262.0" cy="783.0" r="7.4" fill="#e07fc4"/>
<text x="286" y="788.0" font-family="Liberation Sans, sans-serif" font-size="16.6" fill="#ececec" stroke="#ececec" stroke-width="0.22" textLength="208.0" lengthAdjust="spacingAndGlyphs">Restaking / Liquid Restaking</text>
<line x1="507.3" y1="783.0" x2="541.7" y2="783.0" stroke="#c6c834" stroke-width="2.3"/>
<circle cx="524.5" cy="783.0" r="7.4" fill="#c6c834"/>
<text x="549.0" y="788.0" font-family="Liberation Sans, sans-serif" font-size="16.6" fill="#ececec" stroke="#ececec" stroke-width="0.22" textLength="211.0" lengthAdjust="spacingAndGlyphs">Derivatives (Options/Exotics)</text></svg>
</body></html>
